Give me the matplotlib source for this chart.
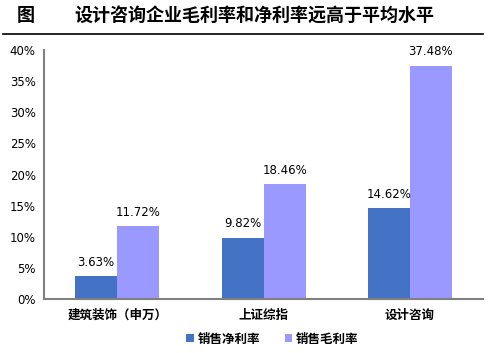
import matplotlib.pyplot as plt
import numpy as np

plt.rcParams['font.family'] = ['Noto Sans CJK SC', 'DejaVu Sans']

# Data
categories = ['建筑装饰（申万）', '上证综指', '设计咨询']
net_margin = [3.63, 9.82, 14.62]
gross_margin = [11.72, 18.46, 37.48]
series_names = ['销售净利率', '销售毛利率']
yticks = [0, 5, 10, 15, 20, 25, 30, 35, 40]

fig = plt.figure(figsize=(4.89, 3.53), dpi=100)
ax = fig.add_axes([0.090, 0.153, 0.898, 0.705])

x = np.arange(len(categories))
w = 0.287
b1 = ax.bar(x - w / 2, net_margin, w, color='#4472C4', label=series_names[0])
b2 = ax.bar(x + w / 2, gross_margin, w, color='#9999FF', label=series_names[1])

for bars in (b1, b2):
    for bar in bars:
        h = bar.get_height()
        ax.text(bar.get_x() + bar.get_width() / 2, h + 1.2, f'{h:.2f}%',
                ha='center', va='bottom', fontsize=8.5, family='DejaVu Sans')

ax.set_xlim(-0.5, 2.5)
ax.set_ylim(0, 40)
ax.set_yticks(yticks)
ax.set_yticklabels([f'{t}%' for t in yticks], family='DejaVu Sans', fontsize=8.5)
ax.set_xticks(x)
ax.set_xticklabels(categories, fontsize=9, fontweight='bold')
ax.tick_params(axis='x', length=0, pad=7)
ax.tick_params(axis='y', length=0, pad=6)

for s in ['top', 'right']:
    ax.spines[s].set_visible(False)
for s in ['left', 'bottom']:
    ax.spines[s].set_color('#808080')
    ax.spines[s].set_linewidth(1.5)

# Legend
ax.legend(loc='upper center', bbox_to_anchor=(0.52, -0.09), ncol=2, frameon=False,
          prop={'size': 9, 'weight': 'bold'}, handlelength=0.6, handleheight=0.6,
          handletextpad=0.3, columnspacing=2.0)

# Title
fig.text(0.035, 0.955, '图', fontsize=13, fontweight='bold', va='center')
fig.text(0.153, 0.955, '设计咨询企业毛利率和净利率远高于平均水平', fontsize=13,
         fontweight='bold', va='center')
fig.add_artist(plt.Line2D([0.006, 0.988], [0.904, 0.904], color='black', lw=1.2))

plt.savefig('out.png', dpi=100)
